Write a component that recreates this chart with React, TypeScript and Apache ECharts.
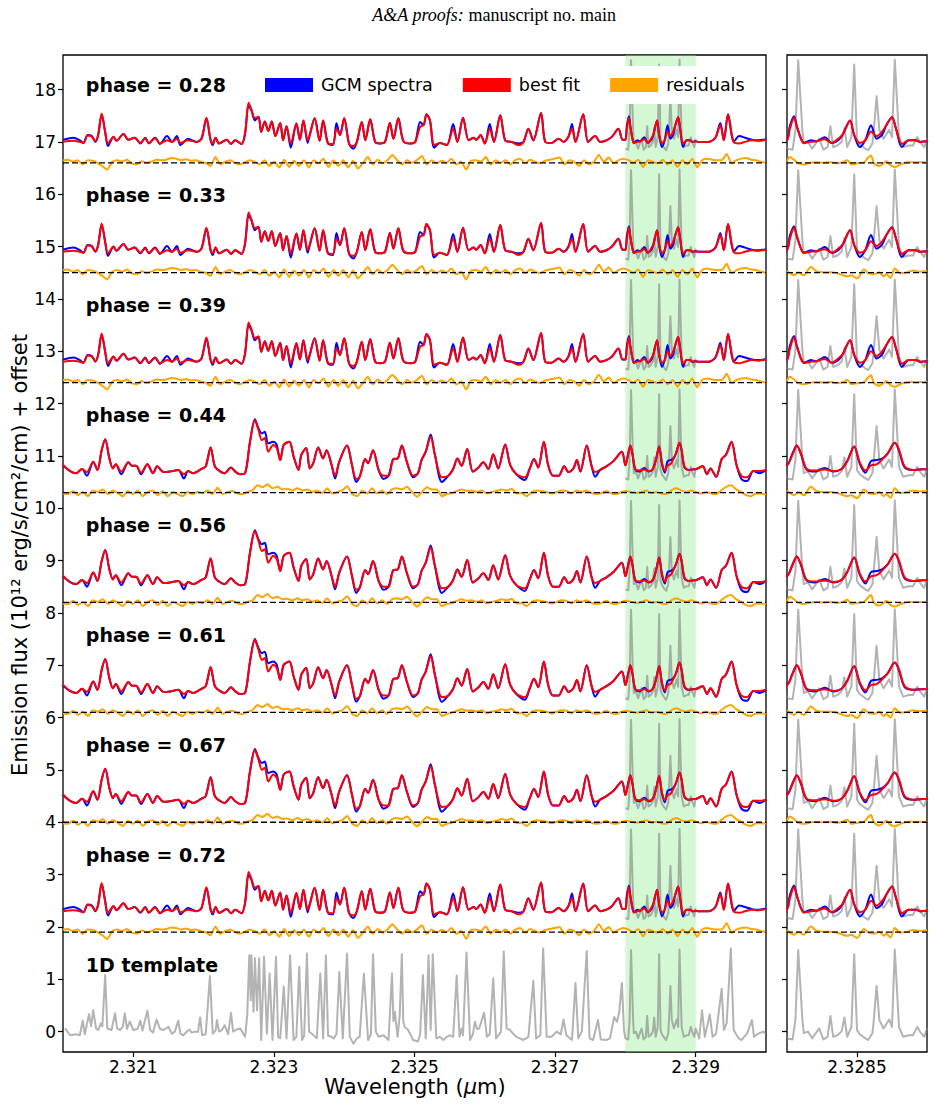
import React, { useEffect, useRef } from "react";
import * as echarts from "echarts";

// ---------------- data ----------------
const phases = ["0.28", "0.33", "0.39", "0.44", "0.56", "0.61", "0.67", "0.72"];
const specOffsets = [17.0, 14.9, 12.8, 10.7, 8.58, 6.5, 4.4, 2.3];
const resOffsets = [16.6, 14.5, 12.4, 10.3, 8.2, 6.1, 4.0, 1.9];
const phaseProfile = ["A", "A", "A", "B", "B", "B", "B", "A"];
const labelY = [18.08, 15.98, 13.88, 11.78, 9.68, 7.58, 5.48, 3.38];
const templateLabelY = 1.28;
const labelX = 2.32031;
const bandRange = [2.328, 2.329];
const xTicksMain = [2.321, 2.323, 2.325, 2.327, 2.329];
const xTicksZoom = [2.3285];
const yTicks = [0, 1, 2, 3, 4, 5, 6, 7, 8, 9, 10, 11, 12, 13, 14, 15, 16, 17, 18];

// spectrum profile A (early / late phases), relative to continuum
const wlA = [
  2.32000, 2.32015, 2.32024, 2.32029, 2.32035, 2.32041, 2.32046, 2.32050, 2.32055, 2.32060,
  2.32064, 2.32072, 2.32076, 2.32086, 2.32093, 2.32102, 2.32110, 2.32117, 2.32122, 2.32131,
  2.32138, 2.32148, 2.32155, 2.32162, 2.32167, 2.32178, 2.32190, 2.32197, 2.32204, 2.32210,
  2.32213, 2.32217, 2.32222, 2.32233, 2.32239, 2.32245, 2.32254, 2.32259, 2.32264, 2.32268,
  2.32273, 2.32278, 2.32282, 2.32287, 2.32292, 2.32297, 2.32302, 2.32309, 2.32313, 2.32318,
  2.32324, 2.32332, 2.32337, 2.32342, 2.32348, 2.32351, 2.32358, 2.32365, 2.32370, 2.32377,
  2.32384, 2.32389, 2.32394, 2.32400, 2.32407, 2.32413, 2.32418, 2.32425, 2.32430, 2.32437,
  2.32444, 2.32451, 2.32458, 2.32465, 2.32470, 2.32477, 2.32484, 2.32494, 2.32501, 2.32508,
  2.32513, 2.32517, 2.32522, 2.32528, 2.32536, 2.32546, 2.32555, 2.32561, 2.32569, 2.32577,
  2.32584, 2.32588, 2.32594, 2.32600, 2.32607, 2.32613, 2.32622, 2.32629, 2.32638, 2.32648,
  2.32655, 2.32662, 2.32669, 2.32680, 2.32686, 2.32695, 2.32705, 2.32712, 2.32719, 2.32724,
  2.32729, 2.32740, 2.32747, 2.32757, 2.32764, 2.32773, 2.32781, 2.32790, 2.32796,
  2.32800, 2.32802, 2.32805, 2.32807, 2.32810, 2.32812, 2.32817, 2.32821, 2.32827, 2.32832,
  2.32837, 2.32840, 2.32845, 2.32848, 2.32852, 2.32856, 2.32860, 2.32864, 2.32868, 2.32871,
  2.32875, 2.32878, 2.32882, 2.32887, 2.32892, 2.32895, 2.32900,
  2.32904, 2.32918, 2.32928, 2.32935, 2.32940, 2.32946, 2.32954, 2.32962, 2.32970, 2.32980,
  2.32989, 2.33000,
];
const gcmA = [
  0.04, 0.08, 0.03, -0.02, 0.13, 0.11, 0.00, 0.13, 0.52, 0.19,
  -0.08, 0.10, 0.02, 0.15, 0.04, 0.08, -0.03, 0.08, -0.03, 0.08,
  -0.04, 0.11, 0.00, 0.11, -0.06, 0.06, 0.00, 0.06, 0.44, 0.03,
  -0.06, 0.08, -0.03, 0.04, -0.04, 0.03, -0.04, 0.16, 0.70, 0.60,
  0.41, 0.48, 0.19, 0.39, 0.21, 0.39, 0.11, 0.36, 0.03, 0.30,
  -0.11, 0.35, 0.04, 0.41, -0.02, 0.13, 0.45, 0.02, 0.41, -0.03,
  -0.06, 0.36, 0.13, 0.45, -0.04, -0.13, 0.00, 0.38, 0.03, 0.43,
  0.00, -0.03, 0.00, 0.36, 0.06, 0.45, 0.02, -0.03, 0.00, 0.38,
  0.32, 0.53, 0.41, -0.11, -0.02, -0.06, 0.34, 0.00, 0.46, 0.03,
  0.08, 0.04, 0.13, -0.03, 0.34, 0.00, 0.51, 0.03, 0.00, -0.03,
  0.00, 0.25, 0.03, 0.55, 0.00, -0.02, 0.06, 0.00, 0.10, 0.34,
  0.00, 0.53, 0.00, 0.11, 0.00, 0.03, 0.10, 0.25, 0.04,
  0.04, 0.30, 0.49, 0.30, 0.06, -0.02, 0.03, 0.01, 0.09, -0.02,
  0.04, 0.15, 0.41, 0.13, -0.10, 0.04, 0.32, 0.06, 0.14, 0.32,
  0.47, 0.24, -0.10, 0.03, 0.03, 0.00, 0.01,
  0.00, 0.00, 0.08, 0.36, 0.03, 0.53, 0.00, 0.11, 0.08, 0.04,
  0.03, 0.05,
];
const fitA = [
  0.00, 0.02, 0.00, -0.02, 0.12, 0.10, 0.01, 0.13, 0.54, 0.19,
  -0.03, 0.10, 0.02, 0.15, 0.04, 0.08, -0.02, 0.07, -0.02, 0.07,
  -0.03, 0.03, 0.00, 0.06, -0.02, 0.03, 0.00, 0.06, 0.46, 0.03,
  -0.03, 0.08, -0.03, 0.04, -0.04, 0.03, -0.04, 0.16, 0.75, 0.62,
  0.45, 0.48, 0.19, 0.39, 0.21, 0.39, 0.11, 0.36, 0.03, 0.30,
  -0.03, 0.35, 0.04, 0.41, 0.03, 0.13, 0.45, 0.02, 0.41, -0.03,
  -0.04, 0.25, 0.13, 0.45, -0.04, -0.08, 0.00, 0.38, 0.03, 0.43,
  0.00, -0.03, 0.00, 0.36, 0.06, 0.45, 0.02, -0.03, 0.00, 0.29,
  0.32, 0.53, 0.41, -0.06, -0.02, -0.06, 0.25, 0.00, 0.46, 0.03,
  0.08, 0.04, 0.13, -0.03, 0.25, 0.00, 0.51, 0.03, 0.00, -0.06,
  0.00, 0.25, 0.03, 0.55, 0.00, -0.02, 0.06, 0.00, 0.10, 0.25,
  0.00, 0.53, 0.00, 0.11, 0.00, 0.03, 0.10, 0.25, 0.04,
  0.04, 0.24, 0.46, 0.30, 0.06, -0.02, 0.00, 0.01, 0.05, -0.02,
  0.07, 0.15, 0.41, 0.13, -0.02, 0.03, 0.20, 0.11, 0.20, 0.32,
  0.47, 0.24, -0.04, 0.03, 0.03, 0.00, 0.01,
  0.00, 0.00, 0.08, 0.32, 0.03, 0.53, 0.00, -0.03, 0.00, 0.03,
  0.02, 0.04,
];

// spectrum profile B (mid phases), relative to continuum
const wlB = [
  2.32000, 2.32010, 2.32019, 2.32027, 2.32034, 2.32043, 2.32049, 2.32055, 2.32060, 2.32066,
  2.32071, 2.32075, 2.32083, 2.32093, 2.32098, 2.32104, 2.32111, 2.32120, 2.32128, 2.32134,
  2.32143, 2.32152, 2.32164, 2.32172, 2.32178, 2.32185, 2.32197, 2.32203, 2.32210, 2.32216,
  2.32223, 2.32230, 2.32239, 2.32245, 2.32252, 2.32259, 2.32266, 2.32273, 2.32278, 2.32283,
  2.32287, 2.32292, 2.32299, 2.32304, 2.32309, 2.32314, 2.32322, 2.32328, 2.32335, 2.32339,
  2.32346, 2.32351, 2.32356, 2.32363, 2.32370, 2.32375, 2.32382, 2.32387, 2.32393, 2.32404,
  2.32411, 2.32417, 2.32422, 2.32430, 2.32434, 2.32441, 2.32449, 2.32456, 2.32463, 2.32470,
  2.32476, 2.32482, 2.32489, 2.32498, 2.32505, 2.32510, 2.32516, 2.32523, 2.32529, 2.32539,
  2.32548, 2.32555, 2.32561, 2.32567, 2.32575, 2.32583, 2.32591, 2.32598, 2.32605, 2.32612,
  2.32619, 2.32629, 2.32636, 2.32645, 2.32657, 2.32664, 2.32670, 2.32676, 2.32684, 2.32690,
  2.32697, 2.32705, 2.32713, 2.32719, 2.32726, 2.32731, 2.32736, 2.32745, 2.32752, 2.32757,
  2.32764, 2.32773, 2.32783, 2.32795,
  2.32800, 2.32804, 2.32807, 2.32810, 2.32814, 2.32820, 2.32827, 2.32833, 2.32839, 2.32843,
  2.32848, 2.32852, 2.32856, 2.32860, 2.32864, 2.32868, 2.32872, 2.32877, 2.32880, 2.32884,
  2.32890, 2.32895, 2.32901,
  2.32910, 2.32916, 2.32921, 2.32929, 2.32937, 2.32943, 2.32951, 2.32958, 2.32965, 2.32973,
  2.32982, 2.32991, 2.33000,
];
const gcmB = [
  0.11, 0.01, -0.03, 0.05, -0.08, 0.19, 0.03, 0.41, 0.62, 0.25,
  0.06, 0.14, -0.05, 0.18, 0.11, 0.11, -0.05, 0.14, -0.03, 0.10,
  -0.01, 0.00, 0.03, -0.13, 0.01, -0.03, 0.05, 0.10, 0.46, 0.10,
  0.01, -0.03, 0.08, 0.00, -0.05, -0.03, 0.57, 1.00, 0.83, 0.73,
  0.76, 0.54, 0.57, 0.51, 0.22, 0.51, 0.57, 0.29, 0.03, 0.32,
  0.45, 0.06, 0.16, 0.46, 0.25, 0.41, 0.13, -0.13, 0.19, 0.50,
  0.13, -0.20, -0.10, 0.24, 0.16, 0.41, 0.03, -0.14, -0.08, 0.24,
  0.25, 0.50, 0.19, -0.11, -0.03, 0.22, 0.38, 0.71, 0.32, -0.20,
  -0.08, 0.05, 0.25, 0.11, 0.43, 0.00, 0.08, 0.18, 0.05, 0.33,
  0.06, 0.52, 0.13, -0.05, -0.16, 0.06, 0.24, 0.08, 0.57, 0.13,
  -0.08, -0.08, 0.10, -0.01, 0.06, 0.22, 0.00, 0.50, 0.10, -0.10,
  0.03, 0.10, 0.20, 0.38,
  0.12, 0.35, 0.50, 0.33, 0.04, 0.00, 0.07, 0.00, 0.05, 0.20,
  0.48, 0.15, -0.02, 0.20, 0.22, 0.25, 0.35, 0.55, 0.40, 0.08,
  0.03, 0.04, 0.05,
  0.10, -0.05, 0.06, -0.10, 0.24, 0.32, 0.57, 0.13, -0.14, -0.18,
  0.01, -0.03, 0.03,
];
const fitB = [
  0.13, 0.01, -0.03, 0.05, -0.01, 0.19, 0.03, 0.41, 0.62, 0.25,
  0.06, 0.14, 0.00, 0.18, 0.11, 0.11, -0.02, 0.14, -0.03, 0.10,
  -0.01, 0.00, 0.03, -0.05, 0.01, -0.03, 0.05, 0.10, 0.46, 0.10,
  0.01, -0.03, 0.08, 0.00, -0.05, -0.03, 0.57, 0.98, 0.80, 0.60,
  0.64, 0.38, 0.51, 0.45, 0.22, 0.51, 0.57, 0.29, 0.03, 0.32,
  0.45, 0.06, 0.16, 0.46, 0.25, 0.41, 0.13, -0.08, 0.19, 0.50,
  0.13, -0.14, -0.10, 0.24, 0.16, 0.41, 0.03, -0.08, -0.08, 0.24,
  0.25, 0.50, 0.19, -0.08, -0.03, 0.22, 0.38, 0.67, 0.32, -0.11,
  -0.08, 0.05, 0.25, 0.11, 0.43, 0.00, 0.08, 0.18, 0.05, 0.33,
  0.06, 0.52, 0.13, -0.05, -0.11, 0.06, 0.24, 0.08, 0.57, 0.13,
  -0.08, -0.08, 0.10, -0.01, 0.06, 0.22, 0.00, 0.50, 0.10, -0.01,
  0.03, 0.10, 0.20, 0.38,
  0.12, 0.33, 0.50, 0.35, 0.05, 0.02, 0.04, 0.01, 0.05, 0.20,
  0.48, 0.17, 0.02, 0.12, 0.14, 0.23, 0.35, 0.55, 0.42, 0.10,
  0.03, 0.04, 0.05,
  0.10, -0.05, 0.06, -0.10, 0.24, 0.32, 0.57, 0.13, -0.08, -0.11,
  0.01, 0.01, 0.03,
];

// 1D template spectrum
const tplWl = [
  2.32003, 2.32010, 2.32019, 2.32024, 2.32028, 2.32031, 2.32037, 2.32040, 2.32043, 2.32047,
  2.32050, 2.32054, 2.32056, 2.32060, 2.32063, 2.32069, 2.32074, 2.32077, 2.32081, 2.32085,
  2.32088, 2.32091, 2.32095, 2.32100, 2.32106, 2.32110, 2.32113, 2.32120, 2.32124, 2.32128,
  2.32133, 2.32138, 2.32143, 2.32150, 2.32155, 2.32159, 2.32164, 2.32167, 2.32171, 2.32176,
  2.32180, 2.32183, 2.32188, 2.32192, 2.32195, 2.32198, 2.32203, 2.32209, 2.32213, 2.32217,
  2.32219, 2.32222, 2.32226, 2.32230, 2.32235, 2.32239, 2.32242, 2.32247, 2.32252, 2.32259,
  2.32262, 2.32265, 2.32267, 2.32268, 2.32271, 2.32273, 2.32276, 2.32279, 2.32282, 2.32286,
  2.32290, 2.32294, 2.32298, 2.32303, 2.32306, 2.32309, 2.32314, 2.32318, 2.32323, 2.32328,
  2.32332, 2.32336, 2.32340, 2.32343, 2.32347, 2.32350, 2.32354, 2.32361, 2.32366, 2.32370,
  2.32374, 2.32377, 2.32382, 2.32385, 2.32389, 2.32393, 2.32398, 2.32404, 2.32408, 2.32413,
  2.32418, 2.32422, 2.32428, 2.32434, 2.32438, 2.32441, 2.32445, 2.32449, 2.32456, 2.32463,
  2.32468, 2.32470, 2.32472, 2.32476, 2.32479, 2.32482, 2.32484, 2.32486, 2.32491, 2.32498,
  2.32505, 2.32508, 2.32512, 2.32516, 2.32520, 2.32523, 2.32526, 2.32531, 2.32536, 2.32541,
  2.32546, 2.32550, 2.32555, 2.32560, 2.32564, 2.32567, 2.32569, 2.32574, 2.32579, 2.32583,
  2.32586, 2.32589, 2.32592, 2.32599, 2.32603, 2.32607, 2.32612, 2.32616, 2.32623, 2.32627,
  2.32631, 2.32636, 2.32641, 2.32645, 2.32655, 2.32662, 2.32669, 2.32673, 2.32679, 2.32683,
  2.32688, 2.32695, 2.32702, 2.32708, 2.32712, 2.32716, 2.32724, 2.32729, 2.32733, 2.32738,
  2.32745, 2.32749, 2.32754, 2.32761, 2.32765, 2.32773, 2.32778, 2.32784, 2.32788, 2.32791,
  2.32795, 2.32798,
  2.32800, 2.32804, 2.32806, 2.32808, 2.32811, 2.32812, 2.32815, 2.32818, 2.32823, 2.32826,
  2.32829, 2.32831, 2.32833, 2.32836, 2.32839, 2.32841, 2.32843, 2.32846, 2.32848, 2.32850,
  2.32852, 2.32856, 2.32858, 2.32861, 2.32862, 2.32864, 2.32866, 2.32869, 2.32873, 2.32875,
  2.32877, 2.32880, 2.32883, 2.32887, 2.32890, 2.32893, 2.32895, 2.32898, 2.32900,
  2.32905, 2.32909, 2.32913, 2.32920, 2.32924, 2.32929, 2.32937, 2.32940, 2.32944, 2.32950,
  2.32954, 2.32961, 2.32965, 2.32973, 2.32980, 2.32983, 2.32989, 2.32996, 2.33000,
];
const tplVal = [
  0.06, -0.07, -0.05, -0.07, 0.21, -0.05, 0.33, 0.10, 0.41, 0.06,
  0.03, 0.16, 0.10, 1.08, 0.06, 0.03, 0.35, 0.06, 0.03, 0.09,
  0.35, 0.05, 0.19, 0.03, 0.05, 0.21, 0.02, 0.40, 0.03, -0.02,
  0.23, 0.05, 0.03, 0.09, -0.04, 0.00, 0.21, -0.04, -0.07, 0.00,
  0.04, -0.02, 0.00, -0.01, 0.27, -0.07, -0.05, 1.06, -0.04, 0.02,
  0.22, 0.00, 0.03, 0.12, -0.05, 0.36, 0.00, 0.04, 0.06, -0.10,
  0.30, 1.46, 0.60, 1.46, 0.38, 1.40, 0.41, 1.40, -0.16, 1.43,
  -0.04, 1.11, -0.16, 1.43, -0.10, -0.13, 0.86, -0.13, 1.46, -0.16,
  -0.10, 1.24, -0.16, -0.08, 1.49, 0.00, -0.04, -0.13, 1.11, -0.13,
  1.46, -0.08, -0.10, -0.13, -0.05, 1.14, -0.13, 1.49, -0.10, -0.23,
  -0.13, -0.10, 1.11, -0.16, -0.05, 1.48, 0.00, -0.10, -0.07, -0.16,
  1.11, 0.20, 0.38, -0.10, 0.32, 1.48, 0.20, 0.09, 0.03, -0.16,
  -0.19, -0.05, 1.08, -0.13, 1.46, 0.03, 1.48, -0.13, -0.10, -0.16,
  -0.10, -0.07, -0.10, 1.07, -0.10, 0.06, -0.07, 1.51, -0.16, -0.05,
  0.19, 0.05, 0.06, 0.36, -0.10, -0.05, 1.02, -0.13, 0.00, 1.53,
  0.06, 0.03, -0.05, -0.10, -0.16, -0.10, 0.97, -0.13, -0.07, 1.59,
  -0.10, -0.10, 0.00, -0.05, 0.23, -0.07, -0.16, 0.93, -0.13, 0.00,
  1.54, -0.13, -0.16, 0.22, -0.15, -0.16, -0.13, 0.28, 0.19, 0.35,
  0.93, 0.03,
  -0.13, -0.15, 0.22, 1.56, 0.22, -0.03, 0.00, -0.13, 0.06, -0.15,
  -0.10, 0.30, -0.10, -0.07, 0.00, 0.27, -0.10, 0.09, 1.48, 0.03,
  -0.05, -0.13, -0.16, -0.03, 0.22, 0.87, 0.22, 0.06, 0.23, 0.09,
  1.57, 0.09, -0.10, -0.07, -0.07, 0.09, 0.00, -0.10, 0.06,
  -0.13, 0.41, -0.10, 0.33, -0.10, -0.04, 0.82, 0.03, 0.16, 1.59,
  0.03, -0.13, -0.16, -0.04, 0.22, -0.10, -0.04, 0.00, -0.04,
];

// residuals on an even wavelength grid over the full range
const resA = [
  0.05, 0.06, 0.02, 0.05, -0.03, 0.05, 0.04, 0.00, -0.06, -0.13, 0.02, 0.05, 0.02, 0.06, -0.01, -0.03,
  0.03, 0.00, 0.02, 0.06, 0.05, 0.06, 0.09, 0.08, 0.05, 0.07, 0.04, 0.05, 0.02, 0.00, -0.06, 0.11,
  -0.03, 0.02, 0.05, 0.00, -0.03, 0.01, 0.05, 0.02, -0.03, 0.05, -0.06, 0.02, -0.09, 0.06, -0.08, 0.04,
  -0.06, 0.05, -0.09, 0.05, -0.01,
  0.08, -0.08, 0.05, -0.06, 0.05, -0.09, 0.04, -0.11, -0.01, 0.11, -0.03, 0.06, -0.01, 0.05, 0.15, 0.05,
  -0.03, 0.05, 0.00, 0.05, 0.13, -0.03, 0.05, -0.01, 0.04, 0.00, 0.08, -0.03, 0.02, -0.13, 0.04, 0.05,
  0.02, 0.11, -0.03, 0.05, 0.00, 0.05, -0.03, 0.05, 0.08, -0.01, 0.06, 0.02, -0.01, 0.04, 0.06, 0.08,
  0.10, -0.03, 0.05, 0.02, -0.06, 0.05, -0.03, 0.02, 0.15, 0.02, 0.10, -0.01, 0.05, 0.08, 0.05, 0.00,
  0.06, -0.08, 0.05, 0.02, -0.01, 0.06, -0.03, 0.05, -0.08, 0.05, -0.03, 0.08, -0.09, 0.05, 0.08, 0.06,
  0.05, 0.05, 0.17, -0.01, 0.05, 0.08, 0.09, 0.06, 0.05, 0.02, 0.00,
];
const resB = [
  -0.02, -0.03, 0.03, -0.05, 0.01, -0.07, 0.04, 0.01, 0.06, -0.03, 0.04, -0.01, -0.07, 0.03, -0.03, 0.04,
  -0.07, 0.01, 0.04, -0.05, 0.03, -0.07, 0.01, -0.03, -0.07, 0.01, -0.03, 0.01, -0.01, 0.04, -0.03, 0.09,
  -0.03, 0.01, 0.03, -0.02, -0.03, 0.01, 0.04, 0.14, 0.10, 0.16, 0.08, 0.11, 0.06, 0.07, 0.04, 0.08,
  0.04, 0.06, 0.01, 0.04, -0.01, 0.08, -0.02, 0.01, 0.04, 0.12, -0.03, -0.07, 0.04, -0.02, 0.08, -0.02,
  0.04, -0.03, 0.06, 0.08, 0.06, 0.11, 0.01, -0.08,
  0.01, 0.10, 0.06, 0.06, -0.07, -0.03, -0.01, 0.03, 0.06, 0.03, 0.04, 0.01, 0.04, -0.02, 0.01, 0.03,
  0.06, 0.04, 0.07, -0.02, -0.01, -0.07, 0.01, 0.04, 0.03, 0.01, -0.02, 0.01, 0.04, 0.03, -0.02, 0.04,
  0.01, 0.04, -0.01, -0.03, -0.01, 0.03, -0.02, -0.03, 0.01, 0.03, 0.01, -0.01, 0.01, 0.04, -0.01, 0.01,
  -0.02, -0.03, 0.04, 0.08, 0.04, 0.01, 0.04, 0.01, -0.02, 0.01, -0.02, -0.03, 0.04, 0.11, 0.14, 0.06,
  0.01, -0.05, -0.07, -0.02, -0.02, -0.03,
];

// residuals resolved in the zoomed window
const zResWl = [
  2.32800, 2.32802, 2.32805, 2.32808, 2.32812, 2.32817, 2.32821, 2.32826, 2.32831, 2.32836,
  2.32840, 2.32843, 2.32846, 2.32850, 2.32855, 2.32858, 2.32860, 2.32862, 2.32866, 2.32869,
  2.32871, 2.32874, 2.32877, 2.32881, 2.32886, 2.32890, 2.32895, 2.32900,
];
const zResA = [
  0.03, 0.11, 0.06, -0.01, -0.03, 0.00, 0.01, 0.00, 0.01, -0.01,
  0.01, 0.05, -0.03, -0.01, 0.01, 0.10, 0.14, 0.00, -0.06, -0.01,
  0.03, -0.05, -0.08, -0.03, 0.01, 0.01, 0.01, 0.01,
];
const zResB = [
  0.04, -0.01, -0.05, 0.01, -0.05, 0.11, 0.03, 0.01, 0.01, -0.01,
  -0.05, -0.07, -0.05, -0.11, 0.06, -0.01, -0.02, -0.03, 0.01, -0.07,
  -0.03, -0.10, 0.08, -0.01, 0.01, 0.04, 0.02, 0.04,
];

// ---------------- styling ----------------
const FONT = "DejaVu Sans";
const BLUE = "#0000ff";
const RED = "#ff0000";
const ORANGE = "#ffa500";
const GRAY = "rgba(128,128,128,0.6)";

const pts = (wl: number[], v: number[], off: number) => wl.map((w, i) => [w, +(v[i] + off).toFixed(4)]);
const evenPts = (v: number[], off: number) =>
  v.map((y, i) => [2.32 + (0.01 * i) / (v.length - 1), +(y + off).toFixed(4)]);

function buildOption() {
  const series: any[] = [];
  const line = (name: string, data: any[], axis: number, color: string, extra: any = {}) => ({
    type: "line",
    name,
    data,
    xAxisIndex: axis,
    yAxisIndex: axis,
    symbol: "none",
    showSymbol: false,
    silent: true,
    color,
    itemStyle: { color },
    lineStyle: { color, width: 2, join: "round" },
    ...extra,
  });

  // shaded window on the main panel
  series.push({
    type: "line",
    name: "window",
    data: [[2.3285, 0]],
    xAxisIndex: 0,
    yAxisIndex: 0,
    symbol: "none",
    silent: true,
    lineStyle: { opacity: 0 },
    z: 0,
    markArea: {
      silent: true,
      itemStyle: { color: "rgba(144,238,144,0.4)" },
      data: [[{ xAxis: bandRange[0] }, { xAxis: bandRange[1] }]],
    },
  });

  const tplPts = pts(tplWl, tplVal, 0);
  const bandIdx = tplWl.map((w, i) => i).filter((i) => tplWl[i] >= bandRange[0] && tplWl[i] <= bandRange[1]);
  const bandWl = bandIdx.map((i) => tplWl[i]);
  const bandVal = bandIdx.map((i) => tplVal[i]);

  phases.forEach((p, i) => {
    const off = specOffsets[i];
    const rOff = resOffsets[i];
    const isA = phaseProfile[i] === "A";
    const wl = isA ? wlA : wlB;
    const gcm = isA ? gcmA : gcmB;
    const fit = isA ? fitA : fitB;
    const res = isA ? resA : resB;
    const zRes = i % 2 === 0 ? zResA : zResB;
    const smooth = { smooth: 0.3 };

    series.push(line("template", pts(bandWl, bandVal, off), 0, GRAY));
    series.push(line("template", pts(tplWl, tplVal, off), 1, GRAY));
    series.push(line("GCM spectra", pts(wl, gcm, off), 0, BLUE, smooth));
    series.push(line("best fit", pts(wl, fit, off), 0, RED, smooth));
    series.push(line("GCM spectra", pts(wl, gcm, off), 1, BLUE, smooth));
    series.push(line("best fit", pts(wl, fit, off), 1, RED, smooth));
    series.push(line("residuals", evenPts(res, rOff), 0, ORANGE, { smooth: 0.2 }));
    series.push(line("residuals", pts(zResWl, zRes, rOff), 1, ORANGE, smooth));
    const dash = { lineStyle: { color: "#000", width: 1.3, type: [6, 3] }, z: 3 };
    series.push(line("zero", [[2.32, rOff], [2.33, rOff]], 0, "#000", dash));
    series.push(line("zero", [[2.328, rOff], [2.329, rOff]], 1, "#000", dash));
  });

  series.push(line("template", tplPts, 0, GRAY));
  series.push(line("template", tplPts, 1, GRAY));

  // panel labels
  const labelData = phases.map((p, i) => ({ value: [labelX, labelY[i]], name: `phase = ${p}` }));
  labelData.push({ value: [labelX, templateLabelY], name: "1D template" });
  series.push({
    type: "scatter",
    name: "labels",
    xAxisIndex: 0,
    yAxisIndex: 0,
    symbol: "circle",
    symbolSize: 2,
    itemStyle: { color: "rgba(0,0,0,0)" },
    silent: true,
    clip: false,
    data: labelData,
    label: {
      show: true,
      position: "right",
      distance: 0,
      formatter: "{b}",
      fontFamily: FONT,
      fontWeight: "bold",
      fontSize: 19,
      color: "#000",
      opacity: 1,
    },
    labelLayout: { hideOverlap: false },
    z: 6,
  });

  const axisFont = { fontFamily: FONT, fontSize: 17, color: "#000" };
  const tick = { length: 5, lineStyle: { color: "#000", width: 1.2 } };

  return {
    animation: false,
    backgroundColor: "#fff",
    grid: [
      { left: 63, top: 55, width: 703, height: 997, show: true, borderColor: "#000", borderWidth: 1.3, backgroundColor: "transparent" },
      { left: 787, top: 55, width: 140, height: 997, show: true, borderColor: "#000", borderWidth: 1.3, backgroundColor: "transparent" },
    ],
    xAxis: [
      {
        type: "value", gridIndex: 0, min: 2.32, max: 2.33,
        axisLine: { show: false, onZero: false }, splitLine: { show: false },
        axisTick: { show: true, customValues: xTicksMain, ...tick },
        axisLabel: { customValues: xTicksMain, formatter: (v: number) => v.toFixed(3), margin: 6, ...axisFont },
      },
      {
        type: "value", gridIndex: 1, min: 2.328, max: 2.329,
        axisLine: { show: false, onZero: false }, splitLine: { show: false },
        axisTick: { show: true, customValues: xTicksZoom, ...tick },
        axisLabel: { customValues: xTicksZoom, formatter: (v: number) => v.toFixed(4), margin: 6, ...axisFont },
      },
    ],
    yAxis: [
      {
        type: "value", gridIndex: 0, min: -0.39, max: 18.66,
        axisLine: { show: false, onZero: false }, splitLine: { show: false },
        axisTick: { show: true, customValues: yTicks, ...tick },
        axisLabel: { customValues: yTicks, margin: 7, ...axisFont },
      },
      {
        type: "value", gridIndex: 1, min: -0.39, max: 18.66,
        axisLine: { show: false, onZero: false }, splitLine: { show: false },
        axisTick: { show: true, customValues: yTicks, ...tick },
        axisLabel: { show: false },
      },
    ],
    legend: {
      data: ["GCM spectra", "best fit", "residuals"],
      icon: "rect",
      itemWidth: 48,
      itemHeight: 14,
      itemGap: 30,
      left: 258,
      top: 66,
      padding: [10, 8, 10, 7],
      backgroundColor: "#fff",
      selectedMode: false,
      textStyle: { fontFamily: FONT, fontSize: 17.5, color: "#000", padding: [0, 0, 0, 3] },
    },
    graphic: [
      {
        type: "text", x: 494, y: 15,
        style: {
          text: "{i|A&A proofs:} manuscript no. main",
          fontFamily: "Liberation Serif", fontSize: 18, fill: "#000",
          align: "center", verticalAlign: "middle",
          rich: { i: { fontStyle: "italic", fontFamily: "Liberation Serif", fontSize: 18 } },
        },
      },
      {
        type: "text", x: 20, y: 555, rotation: Math.PI / 2,
        style: {
          text: "Emission flux (10¹² erg/s/cm²/cm) + offset",
          fontFamily: FONT, fontSize: 21, fill: "#000",
          align: "center", verticalAlign: "middle",
        },
      },
      {
        type: "text", x: 415, y: 1087,
        style: {
          text: "Wavelength ({i|μ}m)",
          fontFamily: FONT, fontSize: 21, fill: "#000",
          align: "center", verticalAlign: "middle",
          rich: { i: { fontStyle: "italic", fontFamily: FONT, fontSize: 21 } },
        },
      },
    ],
    series,
  };
}

export default function App() {
  const ref = useRef<HTMLDivElement>(null);
  useEffect(() => {
    if (!ref.current) return;
    const chart = echarts.init(ref.current, undefined, { renderer: "svg" });
    chart.setOption(buildOption() as any);
    return () => chart.dispose();
  }, []);
  return (
    <div
      ref={ref}
      style={{ position: "absolute", left: 0, top: 0, width: 934, height: 1107, background: "#fff" }}
    />
  );
}
